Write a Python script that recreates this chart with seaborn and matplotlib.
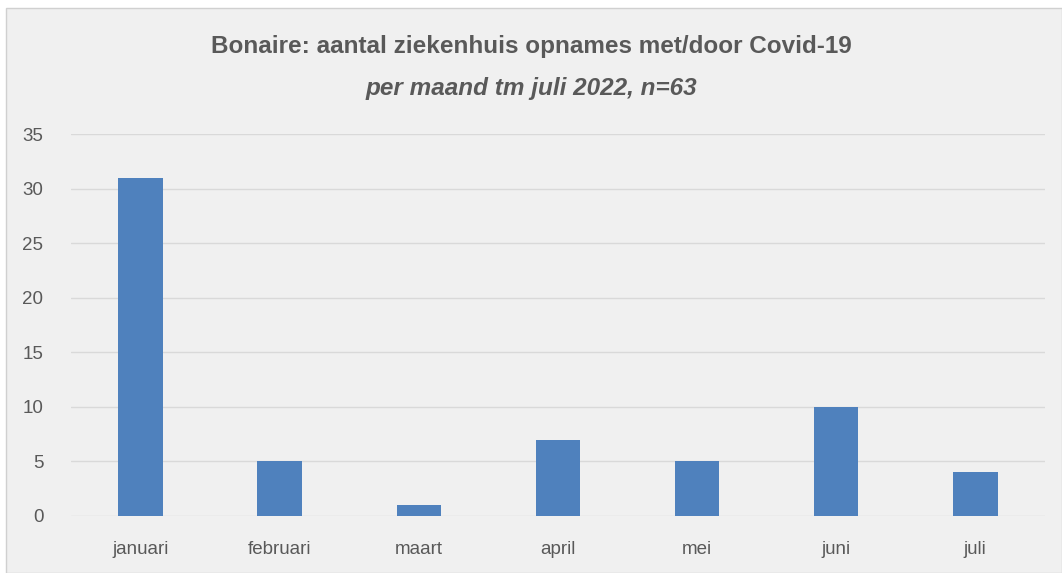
import pandas as pd
import seaborn as sns
import matplotlib.pyplot as plt
from matplotlib.patches import Rectangle

# data
maanden = ['januari', 'februari', 'maart', 'april', 'mei', 'juni', 'juli']
opnames = [31, 5, 1, 7, 5, 10, 4]

df = pd.DataFrame({'maand': maanden, 'opnames': opnames})

sns.set_style('white')
plt.rcParams['font.family'] = ['Liberation Sans', 'DejaVu Sans']
txt = '#595959'

fig = plt.figure(figsize=(10.62, 5.73), dpi=100, facecolor='white')
# grey chart frame, behind everything
fig.patches.append(Rectangle((6 / 1062, 0), 1 - 6 / 1062, 1 - 8 / 573,
                             transform=fig.transFigure, facecolor='#f0f0f0',
                             edgecolor='#d0d0d0', lw=1, zorder=-10))

ax = fig.add_axes([0.0669, 0.0995, 0.917, 0.6665])
ax.set_facecolor('none')
sns.barplot(data=df, x='maand', y='opnames', color='#4f81bd', width=0.32,
            saturation=1, linewidth=0, ax=ax, zorder=3)

ax.set_ylim(0, 35)
ax.set_xlim(-0.5, 6.5)
ax.set_yticks(range(0, 36, 5))
ax.yaxis.grid(True, color='#d9d9d9', lw=1, zorder=0)
ax.set_axisbelow(True)
for s in ax.spines.values():
    s.set_visible(False)
ax.tick_params(axis='both', length=0, labelsize=13.5, colors=txt)
ax.tick_params(axis='y', pad=20)
ax.tick_params(axis='x', pad=18)
ax.set_xlabel('')
ax.set_ylabel('')

fig.text(0.5, 1 - 47 / 573, 'Bonaire: aantal ziekenhuis opnames met/door Covid-19',
         ha='center', va='center', fontsize=17.5, fontweight='bold', color=txt)
fig.text(0.5, 1 - 88 / 573, 'per maand tm juli 2022, n=63',
         ha='center', va='center', fontsize=17.5, fontweight='bold',
         fontstyle='italic', color=txt)

plt.savefig('out.png', dpi=100, facecolor='white')
